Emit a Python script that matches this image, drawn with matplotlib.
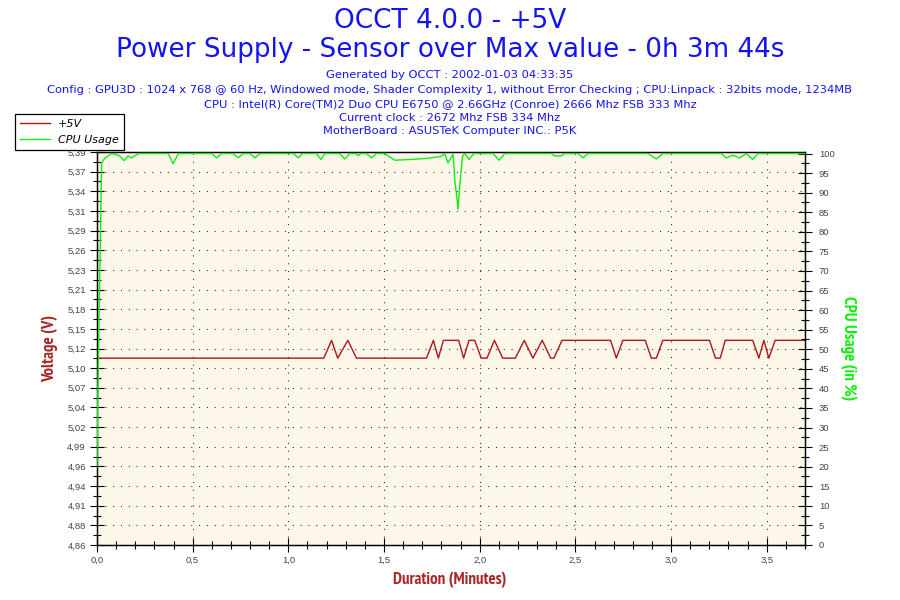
import matplotlib
matplotlib.use("Agg")
import matplotlib.pyplot as plt
from matplotlib.ticker import MultipleLocator
from matplotlib import font_manager as fm
import numpy as np

# ---------------- data ----------------
L, H = 5.112, 5.136
volt_t = [0.000, 1.185, 1.226, 1.258, 1.311, 1.356, 1.722, 1.758, 1.784, 1.810,
          1.890, 1.916, 1.944, 1.974, 2.008, 2.038, 2.077, 2.120, 2.186, 2.233,
          2.278, 2.327, 2.371, 2.388, 2.430, 2.684, 2.714, 2.748, 2.865, 2.897,
          2.923, 2.957, 3.201, 3.232, 3.257, 3.283, 3.427, 3.459, 3.485, 3.511,
          3.544, 3.700]
volt_v = [L, L, H, L, H, L, L, H, L, H,
          H, L, H, H, L, L, H, L, L, H,
          L, H, L, L, H, H, L, H, H, L,
          L, H, H, L, L, H, H, L, H, L,
          H, H]

cpu_t = [0.000, 0.003, 0.008, 0.017, 0.024, 0.040, 0.077, 0.115, 0.142, 0.162,
         0.181, 0.207, 0.222, 0.372, 0.398, 0.425, 0.599, 0.625, 0.651, 0.712,
         0.738, 0.764, 0.799, 0.825, 0.851, 1.029, 1.051, 1.074, 1.147, 1.170,
         1.191, 1.269, 1.295, 1.321, 1.352, 1.365, 1.378, 1.408, 1.434, 1.461,
         1.504, 1.556, 1.643, 1.730, 1.800, 1.817, 1.834, 1.861, 1.870, 1.879,
         1.887, 1.896, 1.910, 1.922, 1.944, 1.969, 2.070, 2.101, 2.131, 2.374,
         2.392, 2.426, 2.444, 2.514, 2.539, 2.566, 2.879, 2.923, 2.957, 3.262,
         3.288, 3.323, 3.358, 3.393, 3.427, 3.453, 3.700]
cpu_v = [20.0, 34.0, 50.0, 76.0, 97.5, 98.8, 100.0, 99.5, 98.2, 99.4,
         98.9, 99.7, 100.0, 100.0, 97.4, 100.0, 100.0, 98.9, 100.0, 100.0,
         98.9, 100.0, 100.0, 98.9, 100.0, 100.0, 98.9, 100.0, 100.0, 98.5,
         100.0, 100.0, 98.6, 100.0, 100.0, 99.5, 100.0, 100.0, 98.9, 100.0,
         100.0, 98.3, 98.5, 98.8, 99.3, 100.0, 97.6, 99.8, 93.0, 89.5,
         85.8, 92.0, 99.3, 100.0, 98.5, 100.0, 100.0, 98.3, 100.0, 100.0,
         99.4, 99.4, 100.0, 100.0, 98.9, 100.0, 100.0, 98.6, 100.0, 100.0,
         98.9, 99.6, 98.9, 100.0, 98.5, 100.0, 100.0]

volt_tick_labels = ["4,86", "4,88", "4,91", "4,94", "4,96", "4,99", "5,02", "5,04",
                    "5,07", "5,10", "5,12", "5,15", "5,18", "5,21", "5,23", "5,26",
                    "5,29", "5,31", "5,34", "5,37", "5,39"]
cpu_tick_labels = [str(v) for v in range(0, 101, 5)]
x_tick_labels = ["0,0", "0,5", "1,0", "1,5", "2,0", "2,5", "3,0", "3,5"]

title1 = "OCCT 4.0.0 - +5V"
title2 = "Power Supply - Sensor over Max value - 0h 3m 44s"
info_lines = [
    "Generated by OCCT : 2002-01-03 04:33:35",
    "Config : GPU3D : 1024 x 768 @ 60 Hz, Windowed mode, Shader Complexity 1, without Error Checking ; CPU:Linpack : 32bits mode, 1234MB",
    "CPU : Intel(R) Core(TM)2 Duo CPU E6750 @ 2.66GHz (Conroe) 2666 Mhz FSB 333 Mhz",
    "Current clock : 2672 Mhz FSB 334 Mhz",
    "MotherBoard : ASUSTeK Computer INC.: P5K",
]

# ---------------- fonts ----------------
_all = {f.name for f in fm.fontManager.ttflist}
_bold = {f.name for f in fm.fontManager.ttflist
         if isinstance(f.weight, (int, float)) and f.weight >= 700}


def pick(cands, pool, default="DejaVu Sans"):
    for c in cands:
        if c in pool:
            return c
    return default


NARROW = pick(["Arial Narrow", "Liberation Sans Narrow", "Archivo Narrow",
               "PT Sans Narrow", "Roboto Condensed", "Fira Sans Condensed",
               "IBM Plex Sans Condensed", "Barlow Semi Condensed", "Barlow Condensed",
               "Encode Sans Condensed", "Asap Condensed", "Saira Condensed",
               "Open Sans Condensed"], _bold)
TAHOMA = pick(["Tahoma", "DejaVu Sans"], _all)
ARIAL = pick(["Arial", "Liberation Sans", "DejaVu Sans"], _all)

# ---------------- style ----------------
BLUE = "#1414EE"
RED = "#B01515"
GREEN = "#11EE11"
LABEL_RED = "#A82828"
TICK_GREY = "#444444"

fig = plt.figure(figsize=(9, 6), dpi=100)
fig.patch.set_facecolor("white")
W, Hh = 900, 600
ax = fig.add_axes([97 / W, 55 / Hh, 708 / W, 393 / Hh])
ax.set_facecolor("#FCF7E9")
ax2 = ax.twinx()

# titles
fig.text(0.5, 1 - 21 / Hh, title1, ha="center", va="center", color=BLUE,
         fontsize=19, family=[TAHOMA, "DejaVu Sans"])
fig.text(0.5, 1 - 50 / Hh, title2, ha="center", va="center", color=BLUE,
         fontsize=18.9, family=[TAHOMA, "DejaVu Sans"])
for yy, s in zip([75, 90, 104, 118, 131], info_lines):
    fig.text(0.5, 1 - yy / Hh, s, ha="center", va="center", color=BLUE,
             fontsize=8.25, family=[TAHOMA, "DejaVu Sans"])

# lines
lv, = ax.plot(volt_t, volt_v, color=RED, linewidth=1.0, zorder=3)
lc, = ax2.plot(cpu_t, cpu_v, color=GREEN, linewidth=1.0, zorder=3)

# axes limits / ticks
ax.set_xlim(0, 3.7)
ax.set_ylim(4.86, 5.39)
ax2.set_ylim(0, 100.4)

yt = np.linspace(4.86, 5.39, len(volt_tick_labels))
ax.set_yticks(yt)
ax.set_yticklabels(volt_tick_labels)
ax.set_yticks(np.linspace(4.86, 5.39, 2 * len(volt_tick_labels) - 1), minor=True)

ax.set_xticks(np.arange(len(x_tick_labels)) * 0.5)
ax.set_xticklabels(x_tick_labels)
ax.xaxis.set_minor_locator(MultipleLocator(0.1))

ax2.set_yticks(np.arange(0, 101, 5))
ax2.set_yticklabels(cpu_tick_labels)
ax2.yaxis.set_minor_locator(MultipleLocator(2.5))

for a in (ax, ax2):
    a.tick_params(which="major", direction="inout", length=10, width=0.8,
                  color="black", labelcolor=TICK_GREY, labelsize=6.8)
    a.tick_params(which="minor", direction="inout", length=6, width=0.8, color="black")
    for sp in a.spines.values():
        sp.set_color("black")
        sp.set_linewidth(0.9)
ax.tick_params(axis="y", which="major", pad=3)
ax.tick_params(axis="x", which="major", pad=3)
ax2.tick_params(axis="y", which="major", pad=5)
for t in ax.get_xticklabels() + ax.get_yticklabels() + ax2.get_yticklabels():
    t.set_fontfamily([ARIAL, "DejaVu Sans"])

ax.grid(True, which="major", color="#222222", linestyle=(0, (1, 6.5)), linewidth=0.75)
ax.set_axisbelow(True)

# axis labels
lab_kw = dict(fontsize=12.2, fontweight="bold", family=[NARROW, "DejaVu Sans"], va="center")
ax.set_ylabel("Voltage (V)", color=LABEL_RED, **lab_kw)
ax.yaxis.set_label_coords((50 - 97) / 708, 0.5)
ax2.set_ylabel("CPU Usage (in %)", color=GREEN, rotation=270, **lab_kw)
ax2.yaxis.set_label_coords((848 - 97) / 708, 0.5)
ax.set_xlabel("Duration (Minutes)", color=LABEL_RED, **lab_kw)
ax.xaxis.set_label_coords((450 - 97) / 708, (545 - 580) / 393)

# legend
leg = ax2.legend([lv, lc], ["+5V", "CPU Usage"], loc="upper left",
                 bbox_to_anchor=(15 / W, 1 - 114 / Hh), bbox_transform=fig.transFigure,
                 borderaxespad=0, fancybox=False, edgecolor="black", framealpha=1,
                 prop={"style": "italic", "size": 8, "family": [TAHOMA, "DejaVu Sans"]},
                 handlelength=2.7, handletextpad=0.7, borderpad=0.45, labelspacing=0.5)
leg.get_frame().set_linewidth(0.9)
leg.set_zorder(10)

fig.savefig("out.png", dpi=100, facecolor="white")
